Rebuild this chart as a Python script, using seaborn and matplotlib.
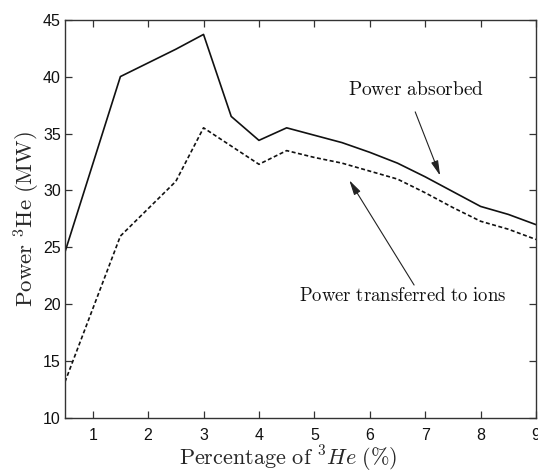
import numpy as np
import pandas as pd
import matplotlib
matplotlib.use("Agg")
import matplotlib.pyplot as plt
import seaborn as sns

# -----------------------------
# Data
# -----------------------------
he3_pct = [0.5, 1.5, 2.5, 3.0, 3.5, 4.0, 4.5, 5.0, 5.5, 6.0, 6.5, 7.0, 7.5, 8.0, 8.5, 9.0]
power_absorbed = [24.6, 40.0, 42.4, 43.7, 36.5, 34.4, 35.5, 34.85, 34.2, 33.35, 32.4, 31.2, 29.9, 28.6, 27.9, 27.0]
power_to_ions = [13.2, 26.0, 30.8, 35.5, 33.9, 32.3, 33.5, 32.9, 32.4, 31.7, 31.0, 29.8, 28.5, 27.3, 26.6, 25.7]

x_ticks = [1, 2, 3, 4, 5, 6, 7, 8, 9]
y_ticks = [10, 15, 20, 25, 30, 35, 40, 45]

df = pd.DataFrame({
    "pct": he3_pct * 2,
    "power": power_absorbed + power_to_ions,
    "series": ["absorbed"] * len(he3_pct) + ["ions"] * len(he3_pct),
})

sns.set_style("ticks")
plt.rcParams["font.family"] = ["Liberation Sans", "DejaVu Sans"]
plt.rcParams["mathtext.fontset"] = "cm"

fig = plt.figure(figsize=(5.38, 4.76), dpi=100)
ax = fig.add_axes([0.1208, 0.1212, 0.8755, 0.8376])

sns.lineplot(data=df, x="pct", y="power", style="series",
             dashes={"absorbed": "", "ions": (2.4, 1.5)},
             color="#111111", linewidth=1.2, legend=False, ax=ax)

ax.set_xlim(0.5, 9)
ax.set_ylim(10, 45)
ax.set_xticks(x_ticks)
ax.set_yticks(y_ticks)
ax.tick_params(direction="in", length=5, width=0.9, colors="#333333",
               labelcolor="#111111", labelsize=11.5,
               top=True, right=True, labeltop=False, labelright=False)
ax.tick_params(axis="x", pad=7)
ax.tick_params(axis="y", pad=3)
for s in ax.spines.values():
    s.set_visible(True)
    s.set_linewidth(1.0)
    s.set_color("#333333")

ax.set_xlabel(r"$\mathrm{Percentage\ of\ }^{3}He\ \mathrm{(\%)}$", fontsize=16)
ax.xaxis.set_label_coords(0.475, -0.065)
ax.set_ylabel(r"$\mathrm{Power\ }^{3}\mathrm{He\ (MW)}$", fontsize=16.5, labelpad=1)

# annotations
arrow = dict(arrowstyle="-|>,head_length=0.9,head_width=0.22", color="#222222",
             lw=0.8, shrinkA=0, shrinkB=0)
ax.text(6.84, 38.8, r"$\mathrm{Power\ absorbed}$", fontsize=14,
        ha="center", va="center", color="#111111")
ax.annotate("", xy=(7.27, 31.3), xytext=(6.82, 36.9), arrowprops=arrow)
ax.text(6.59, 20.7, r"$\mathrm{Power\ transferred\ to\ ions}$", fontsize=13.5,
        ha="center", va="center", color="#111111")
ax.annotate("", xy=(5.63, 30.9), xytext=(6.8, 21.7), arrowprops=arrow)

fig.savefig("out.png", dpi=100)
